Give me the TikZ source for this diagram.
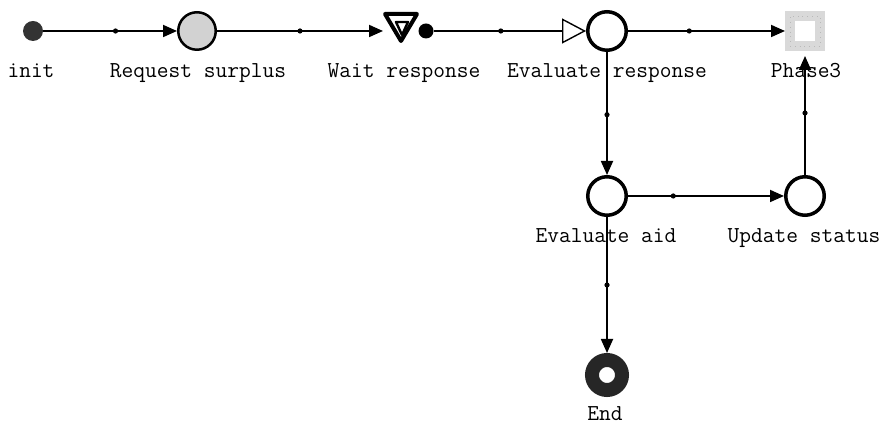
\documentclass[tikz,border=0pt]{standalone}
\usepackage{fontspec}
\usetikzlibrary{arrows.meta}
\begin{document}
\begin{tikzpicture}[x=0.5pt,y=-0.5pt,
   etat/.style={circle,draw,line width=1.75pt,minimum size=19.25pt,inner sep=0pt},
   attente/.style={rectangle,inner sep=0pt,outer sep=0pt,minimum width=18pt,minimum height=19pt,
      path picture={
         \draw[line width=2pt,line join=round]
            ([shift={(1pt,-1pt)}]path picture bounding box.north west)
            -- ([shift={(-1pt,-1pt)}]path picture bounding box.north east)
            -- ([shift={(0pt,4.5pt)}]path picture bounding box.south) -- cycle;
         \draw[line width=1.2pt,line join=round]
            ([shift={(-2.5pt,4.5pt)}]path picture bounding box.center)
            -- ([shift={(3.5pt,4.5pt)}]path picture bounding box.center)
            -- ([shift={(0.5pt,-2pt)}]path picture bounding box.center) -- cycle;}},
   phase/.style={rectangle,draw=gray!30,line width=5pt,fill=white,minimum size=15pt,inner sep=0pt,
      postaction={draw=gray!55,line width=0.4pt,dotted,minimum size=20pt}},
   fin/.style={circle,draw=black!85,line width=7pt,fill=white,minimum size=15pt,inner sep=0pt},
   lien/.style={line width=0.9pt,-{Triangle[length=7pt,width=6pt]}},
   point/.style={circle,fill,inner sep=0pt,minimum size=2.6pt},
   nom/.style={anchor=base,font=\ttfamily\fontsize{11.4}{13}\selectfont}]

\useasboundingbox (0,0) rectangle (883,426);

%% les etats
\def\LigneA{31}
\def\LigneB{196}
   \node[circle,fill=black!80,inner sep=0pt,minimum size=10pt] (init) at (33,\LigneA) {};
   \node[etat,fill=gray!35,line width=1.25pt,minimum size=18.75pt] (request) at (197,\LigneA) {};
   \node[attente] (wait) at (401,\LigneA) {};
   \node[circle,fill=black,inner sep=0pt,minimum size=7.5pt] (signal) at (426,\LigneA) {};
   \node[etat] (evalresp) at (607,\LigneA) {};
   \node[phase] (phase) at (805,\LigneA) {};
   \node[etat] (evalaid) at (607,\LigneB) {};
   \node[etat] (update) at (805,\LigneB) {};
   \node[fin] (end) at (607,375) {};

%% les noms
   \node[nom] (n-init) at (31,78) {init};
   \node[nom] (n-request) at (198,78) {Request surplus};
   \node[nom] (n-wait) at (404,78) {Wait response};
   \node[nom] (n-evalresp) at (607,78) {Evaluate response};
   \node[nom] (n-phase) at (806,78) {Phase3};
   \node[nom] (n-evalaid) at (606,243) {Evaluate aid};
   \node[nom] (n-update) at (804,243) {Update status};
   \node[nom] (n-end) at (605,421) {End};

%% les transitions
   \path[lien] (init) edge node[point,pos=0.54] {} (request);
   \path[lien] (request) edge node[point,pos=0.5] {} (wait);
   \path[line width=0.9pt,-{Triangle[open,length=12pt,width=12.5pt,line width=0.7pt]}]
      (signal) edge node[point,pos=0.44] {} (evalresp);
   \path[lien] (evalresp) edge node[point,pos=0.39] {} (phase);
   \path[lien] (evalresp) edge node[point,pos=0.51] {} (evalaid);
   \path[lien] (evalaid) edge node[point,pos=0.29] {} (update);
   \path[lien,shorten >=2.5pt] (update) edge node[point,pos=0.5] {} (phase);
   \path[lien] (evalaid) edge node[point,pos=0.5] {} (end);

\end{tikzpicture}
\end{document}
